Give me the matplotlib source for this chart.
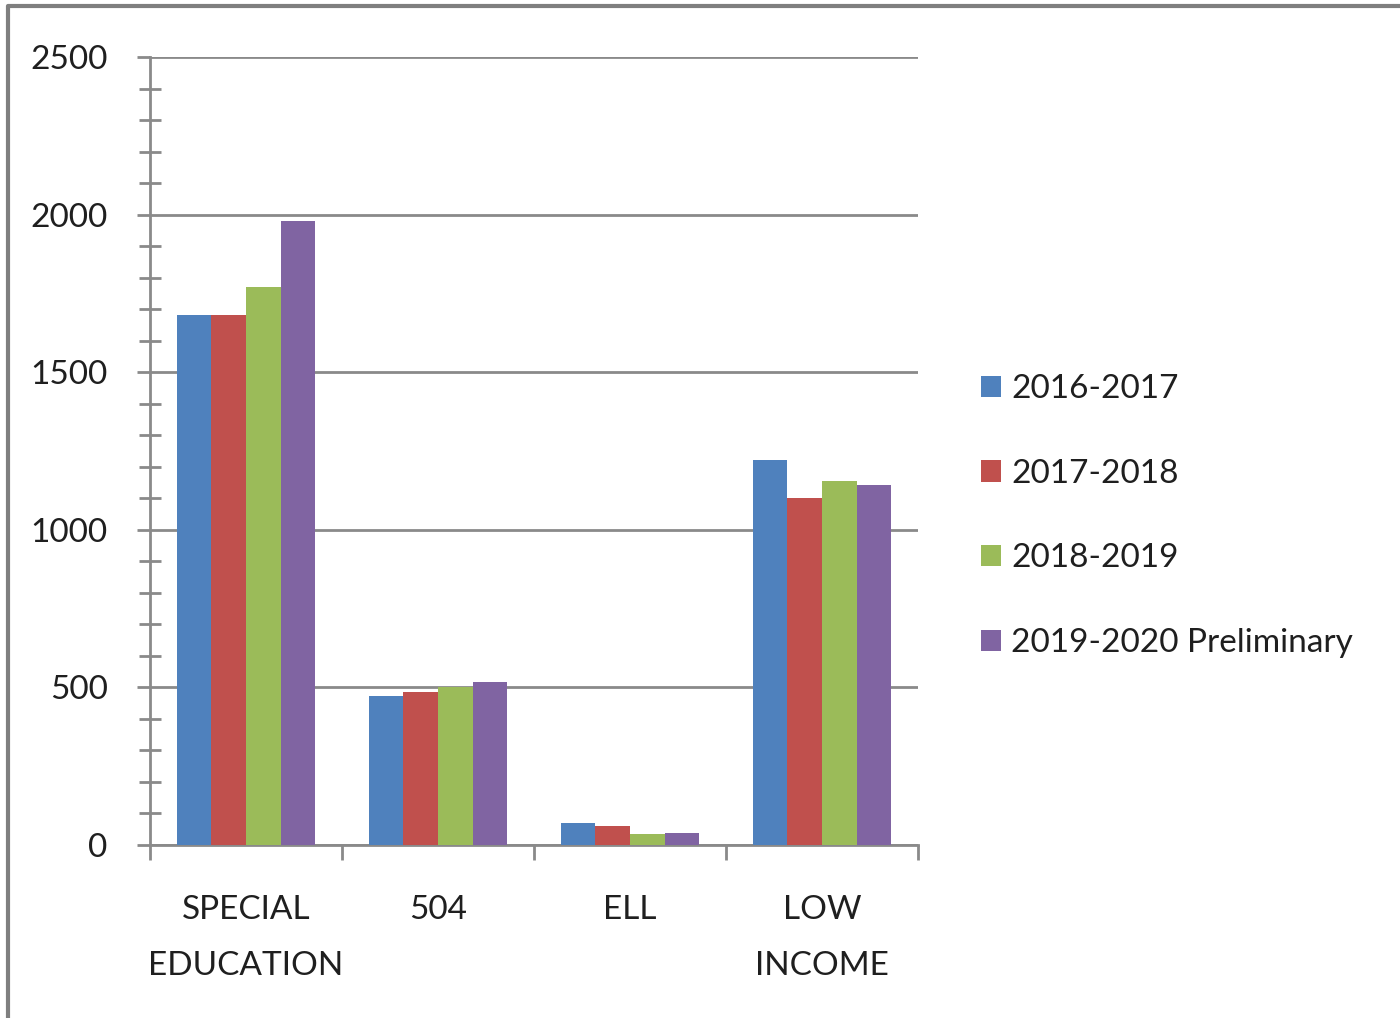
import matplotlib
matplotlib.use("Agg")
import matplotlib.pyplot as plt
import numpy as np
from matplotlib.patches import Patch
from matplotlib.lines import Line2D
from matplotlib.ticker import MultipleLocator

categories = ["SPECIAL\nEDUCATION", "504", "ELL", "LOW\nINCOME"]
series_names = ["2016-2017", "2017-2018", "2018-2019", "2019-2020 Preliminary"]
v2016 = [1680, 472, 71, 1221]
v2017 = [1680, 484, 60, 1100]
v2018 = [1769, 500, 35, 1155]
v2019 = [1981, 517, 37, 1143]
values = [v2016, v2017, v2018, v2019]
colors = ["#4F81BD", "#C0504D", "#9BBB59", "#8064A2"]

plt.rcParams['font.family'] = ['Lato', 'DejaVu Sans']
FS = 24
TXT = "#1f1f1f"
GRID = "#8a8a8a"

fig = plt.figure(figsize=(14, 10.18), dpi=100)
ax = fig.add_axes([150/1400, 1-845/1018, (918-150)/1400, (845-57)/1018])

x = np.arange(len(categories))
bw = 0.18
for i, (vals, c) in enumerate(zip(values, colors)):
    ax.bar(x + (i - 1.5) * bw, vals, width=bw, color=c, zorder=3, linewidth=0)

ax.set_xlim(-0.5, 3.5)
ax.set_ylim(0, 2500)
ax.yaxis.set_major_locator(MultipleLocator(500))
ax.yaxis.set_minor_locator(MultipleLocator(100))
ax.grid(axis='y', which='major', color=GRID, linewidth=2, zorder=1)

ax.set_xticks([-0.5, 0.5, 1.5, 2.5, 3.5])
ax.set_xticklabels([])
ax.set_xticks(x, minor=True)
ax.set_xticklabels(categories, minor=True, fontsize=FS, color=TXT, linespacing=2.1)
ax.tick_params(axis='x', which='major', direction='out', length=11, width=2, color=GRID)
ax.tick_params(axis='x', which='minor', length=0, pad=36)

ax.tick_params(axis='y', which='major', direction='out', length=9.5, width=2, color=GRID,
               labelsize=FS, labelcolor=TXT, pad=21)
ax.tick_params(axis='y', which='minor', direction='inout', length=16, width=2, color=GRID)

for s in ['top', 'right']:
    ax.spines[s].set_visible(False)
for s in ['left', 'bottom']:
    ax.spines[s].set_color(GRID)
    ax.spines[s].set_linewidth(2)

handles = [Patch(facecolor=c, edgecolor='none') for c in colors]
leg = fig.legend(handles, series_names, loc='center left',
                 bbox_to_anchor=(981/1400, 1-516/1018), frameon=False,
                 fontsize=FS, handlelength=0.6, handleheight=0.6,
                 handletextpad=0.3, labelspacing=1.64, borderpad=0,
                 borderaxespad=0)
for t in leg.get_texts():
    t.set_color(TXT)

fig.add_artist(Line2D([8/1400, 8/1400, 1.0], [0.0, 1-6/1018, 1-6/1018],
                      transform=fig.transFigure, color="#7f7f7f", linewidth=3))

fig.savefig("out.png", dpi=100, facecolor='white')
